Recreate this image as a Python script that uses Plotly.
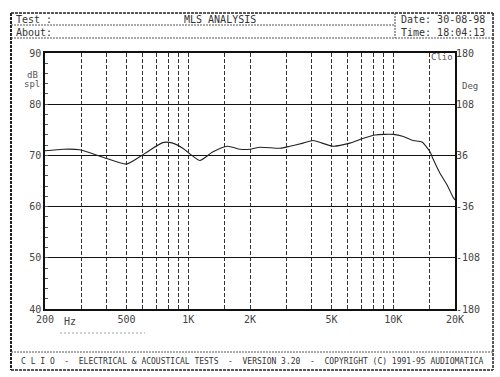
import plotly.graph_objects as go

# ---- data ----
freq_hz = [200, 245, 295, 400, 500, 615, 750, 840, 940, 1040, 1140, 1320, 1550, 1790,
           2000, 2240, 2800, 3130, 3630, 4060, 4490, 5080, 6150, 7100, 8150, 10000,
           11200, 12500, 13800, 15100, 15600, 16900, 18300, 19600, 20000]
spl_db = [70.9, 71.2, 71.1, 69.4, 68.3, 70.4, 72.5, 72.4, 71.4, 70.0, 69.0, 70.7, 71.8, 71.2,
          71.2, 71.6, 71.4, 71.8, 72.4, 72.9, 72.4, 71.8, 72.4, 73.3, 74.0, 74.1,
          73.7, 72.9, 72.6, 70.7, 69.4, 66.5, 64.2, 61.8, 61.3]

grid_freqs = [200, 300, 400, 500, 600, 700, 800, 900, 1000, 1500, 2000, 3000, 4000,
              5000, 6000, 7000, 8000, 9000, 10000, 15000, 20000]
freq_labels = {200: "200", 500: "500", 1000: "1K", 2000: "2K", 5000: "5K",
               10000: "10K", 20000: "20K"}
db_ticks = [40, 50, 60, 70, 80, 90]
deg_ticks = [-180, -108, -36, 36, 108, 180]
deg_labels = ["-180", "-108", "-36", "36", "108", "180"]

FONT = "DejaVu Sans Mono"
INK = "#222222"

# plot area in pixels
L, R, T, B = 45, 455, 53, 309
W, H = 500, 377


def px(x):
    return (x - L) / (R - L)


def py(y):
    return (B - y) / (B - T)


fig = go.Figure()
fig.add_trace(go.Scatter(x=freq_hz, y=spl_db, mode="lines",
                         line=dict(color=INK, width=1.1, shape="spline", smoothing=0.6),
                         showlegend=False, hoverinfo="skip"))
# invisible trace to enable the right axis
fig.add_trace(go.Scatter(x=[200], y=[0], yaxis="y2", mode="markers",
                         marker=dict(opacity=0), showlegend=False, hoverinfo="skip"))

fig.update_layout(
    width=W, height=H,
    margin=dict(l=L, r=W - R, t=T, b=H - B),
    paper_bgcolor="white", plot_bgcolor="white",
    font=dict(family=FONT, size=10, color=INK),
    xaxis=dict(type="log", range=[2.30103, 4.30103],
               tickmode="array", tickvals=grid_freqs,
               ticktext=[freq_labels.get(f, "") for f in grid_freqs],
               showgrid=True, gridcolor="#333333", gridwidth=1, griddash="4px,2px",
               showline=True, linecolor="#111111", linewidth=1.5, mirror=True,
               ticks="", zeroline=False, tickfont=dict(size=10, family=FONT, color="#444")),
    yaxis=dict(range=[40, 90], tickmode="array", tickvals=db_ticks,
               showgrid=True, gridcolor="#111111", gridwidth=1.3,
               showline=True, linecolor="#111111", linewidth=1.5, mirror=True,
               ticks="inside", ticklen=0, zeroline=False,
               minor=dict(dtick=2, ticks="inside", ticklen=3, tickcolor="#555", showgrid=False),
               tickfont=dict(size=10, family=FONT, color="#444")),
    yaxis2=dict(range=[-180, 180], overlaying="y", side="right",
                tickmode="array", tickvals=deg_ticks, ticktext=deg_labels,
                showgrid=False, zeroline=False, ticks="",
                tickfont=dict(size=10, family=FONT, color="#444")),
)

shapes = []
def line(x0, y0, x1, y1, w=1.5, dash="solid", color="#222"):
    shapes.append(dict(type="line", xref="paper", yref="paper",
                       x0=px(x0), y0=py(y0), x1=px(x1), y1=py(y1),
                       line=dict(color=color, width=w, dash=dash)))

# outer frame and header / footer boxes
line(11, 13, 493, 13, 1.5, "3px,1px")
line(11, 13, 11, 370, 2, "3px,1px")
line(493, 13, 493, 370, 1.5, "3px,1px")
line(11, 370, 493, 370, 1.5, "3px,1px")
line(11, 25, 395, 25, 1, "2px,1px", "#555")
line(11, 38, 493, 38, 1, "2px,1px", "#555")
line(395, 13, 395, 38, 1, "2px,1px", "#444")
line(11, 352, 493, 352, 1, "2px,1px", "#555")
line(60, 333, 145, 333, 0.8, "2px,2px", "#888")
fig.update_layout(shapes=shapes)

ann = []
def text(x, y, s, anchor="left", size=10, color="#333"):
    ann.append(dict(xref="paper", yref="paper", x=px(x), y=py(y), text=s,
                    showarrow=False, xanchor=anchor, yanchor="middle",
                    font=dict(family=FONT, size=size, color=color)))

text(14, 19, "Test :")
text(14, 32, "About:")
text(220, 19, "MLS ANALYSIS", "center")
text(399, 19, "Date: 30-08-98")
text(399, 32, "Time: 18:04:13")
text(32, 75, "dB", "center", 9, "#555")
text(32, 84, "spl", "center", 9, "#555")
text(470, 86, "Deg", "center", 9, "#555")
text(442, 57, "Clio", "center", 9, "#555")
text(70, 321, "Hz", "center", 10, "#444")
text(252, 361, "C L I O  -  ELECTRICAL &amp; ACOUSTICAL TESTS  -  VERSION 3.20  -  COPYRIGHT (C) 1991-95 AUDIOMATICA",
     "center", 8, "#333")
fig.update_layout(annotations=ann)

fig.write_html("out.html", config={"displayModeBar": False},
               post_script="document.body.style.margin='0';document.body.style.overflow='hidden';")
